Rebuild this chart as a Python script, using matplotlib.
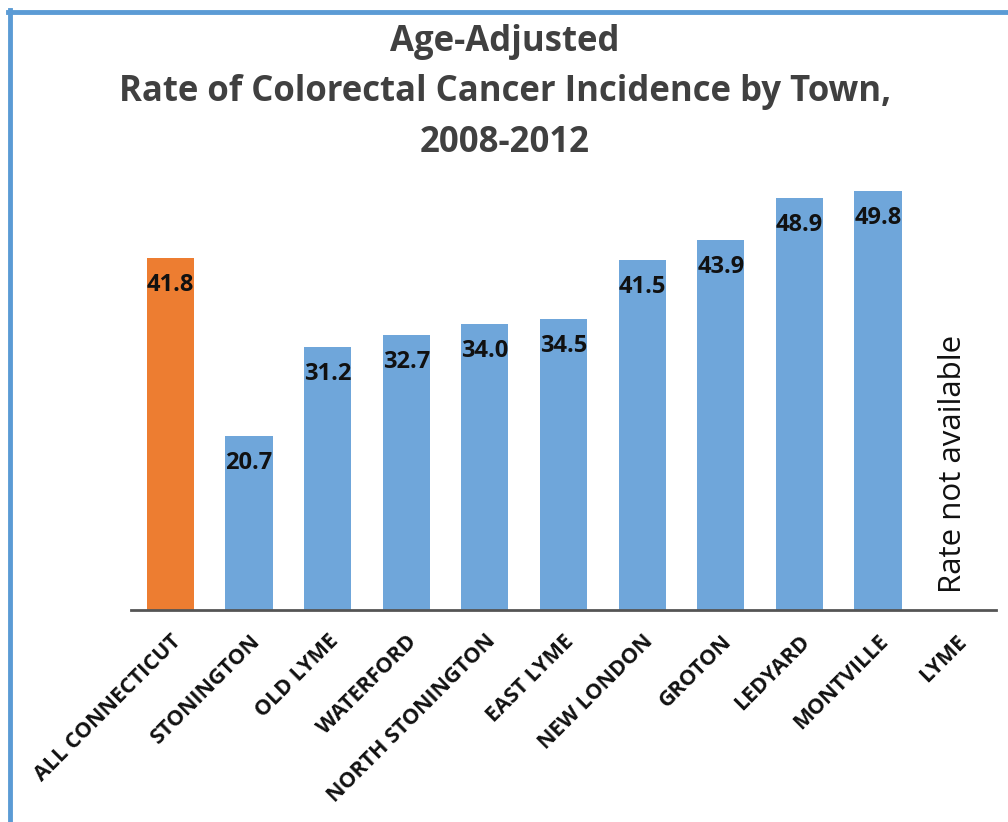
import matplotlib
matplotlib.use("Agg")
import matplotlib.pyplot as plt
from matplotlib.lines import Line2D

towns = ["ALL CONNECTICUT", "STONINGTON", "OLD LYME", "WATERFORD",
         "NORTH STONINGTON", "EAST LYME", "NEW LONDON", "GROTON",
         "LEDYARD", "MONTVILLE", "LYME"]
rates = [41.8, 20.7, 31.2, 32.7, 34.0, 34.5, 41.5, 43.9, 48.9, 49.8, None]
title_lines = ["Age-Adjusted", "Rate of Colorectal Cancer Incidence by Town,", "2008-2012"]
na_text = "Rate not available"

plt.rcParams['font.family'] = ['Open Sans', 'DejaVu Sans']

W, H = 1008, 822
fig = plt.figure(figsize=(W / 100, H / 100), dpi=100)

ax = fig.add_axes([131 / W, 1 - 610 / H, (996 - 131) / W, (610 - 172) / H])
ax.set_xlim(-0.5, len(towns) - 0.5)
ax.set_ylim(0, 52)

blue = "#6FA6DA"
orange = "#ED7D31"
for i, (t, v) in enumerate(zip(towns, rates)):
    if v is None:
        ax.text(i - 0.05, 17.4, na_text, rotation=90, ha="center", va="center",
                fontsize=22.5, color="#111111")
        continue
    ax.bar(i, v, width=0.6, color=orange if i == 0 else blue)
    ax.annotate(f"{v:.1f}", (i, v), xytext=(0, -27), textcoords="offset pixels",
                ha="center", va="center", fontsize=17, fontweight="bold", color="#111111")

ax.set_xticks(range(len(towns)))
ax.set_xticklabels(towns, rotation=45, ha="right", rotation_mode="anchor",
                   fontsize=15.5, fontweight="bold", color="#111111")
ax.tick_params(axis="x", length=0, pad=15)
ax.set_yticks([])
for s in ["top", "right", "left"]:
    ax.spines[s].set_visible(False)
ax.spines["bottom"].set_color("#555555")
ax.spines["bottom"].set_linewidth(2)

for k, line in enumerate(title_lines):
    fig.text(505 / W, 1 - (42 + 50.5 * k) / H, line, ha="center", va="center",
             fontsize=25, fontweight="bold", color="#404040")

border = "#5B9BD5"
fig.add_artist(Line2D([9.5 / W, 9.5 / W], [0, 1 - 10 / H], transform=fig.transFigure,
                      color=border, linewidth=3.5))
fig.add_artist(Line2D([8 / W, 1], [1 - 12 / H, 1 - 12 / H], transform=fig.transFigure,
                      color=border, linewidth=3.5))

fig.savefig("out.png", dpi=100, facecolor="white")
